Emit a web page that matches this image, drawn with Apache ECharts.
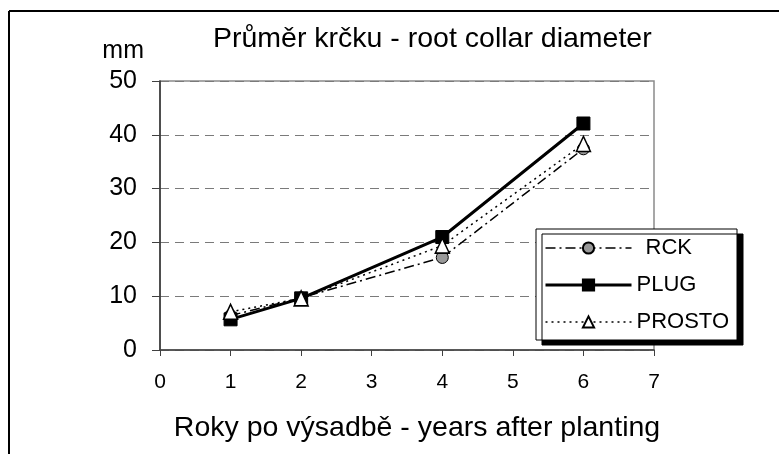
<!DOCTYPE html>
<html>
<head>
<meta charset="utf-8">
<script src="https://cdn.jsdelivr.net/npm/echarts@6/dist/echarts.min.js"></script>
<style>
  html, body { margin: 0; padding: 0; background: #fff; }
  #chart { width: 779px; height: 454px; }
</style>
</head>
<body>
<div id="chart"></div>
<script>
// years after planting
var years = [1, 2, 4, 6]
// root collar diameter (mm)
var rck = [6.4, 9.7, 17.2, 37.4]
var plug = [5.7, 9.6, 21.0, 42.1]
var prosto = [7.1, 9.6, 19.4, 38.3]
var yTicks = [0, 10, 20, 30, 40, 50]
var xTicks = [0, 1, 2, 3, 4, 5, 6, 7]

function pairs(vals) {
  return years.map(function (y, i) { return [y, vals[i]] })
}

var font = 'Liberation Sans'
var chart = echarts.init(document.getElementById('chart'))

chart.setOption({
  animation: false,
  backgroundColor: '#fff',
  textStyle: { fontFamily: font, color: '#000' },
  title: {
    text: 'Průměr krčku - root collar diameter',
    left: 213,
    top: 25,
    padding: 0,
    textStyle: { fontFamily: font, fontSize: 28.5, fontWeight: 'normal', color: '#000' }
  },
  grid: {
    left: 160, right: 125, top: 81, bottom: 104,
    show: true, borderColor: '#8a8a8a', borderWidth: 1.5, backgroundColor: '#fff'
  },
  legend: {
    orient: 'vertical',
    left: 536,
    top: 229,
    padding: [8, 8, 7, 8],
    itemWidth: 86,
    itemHeight: 14,
    itemGap: 15,
    itemTextGap: 5,
    backgroundColor: '#fff',
    borderColor: '#000',
    borderWidth: 1,
    shadowColor: '#000',
    shadowOffsetX: 6,
    shadowOffsetY: 5,
    shadowBlur: 0,
    lineStyle: { width: 'inherit' },
    textStyle: { fontFamily: font, fontSize: 22, color: '#000' },
    data: [
      { name: 'RCK', textStyle: { padding: [0, 0, 0, 9] } },
      'PLUG',
      'PROSTO'
    ]
  },
  xAxis: {
    type: 'value',
    min: xTicks[0],
    max: xTicks[xTicks.length - 1],
    interval: 1,
    name: 'Roky po výsadbě - years after planting',
    nameLocation: 'middle',
    nameGap: 64,
    nameTextStyle: { fontFamily: font, fontSize: 28.5, color: '#000', padding: [0, 0, 0, 20] },
    axisLine: { onZero: false, lineStyle: { color: '#404040', width: 1.5 } },
    axisTick: { length: 6, lineStyle: { color: '#404040', width: 1 } },
    axisLabel: { fontSize: 21, color: '#000', margin: 22 },
    splitLine: { show: false }
  },
  yAxis: {
    type: 'value',
    min: yTicks[0],
    max: yTicks[yTicks.length - 1],
    interval: 10,
    name: 'mm',
    nameLocation: 'end',
    nameGap: 17,
    nameTextStyle: { fontFamily: font, fontSize: 25, color: '#000', align: 'right', padding: [0, 16, 0, 0] },
    axisLine: { show: true, lineStyle: { color: '#303030', width: 1.5 } },
    axisTick: { show: true, length: 8, lineStyle: { color: '#404040', width: 1 } },
    axisLabel: { fontSize: 25, color: '#000', margin: 23 },
    splitLine: { show: true, lineStyle: { color: '#7a7a7a', width: 1, type: [9, 6] } }
  },
  series: [
    {
      name: 'RCK',
      type: 'line',
      data: pairs(rck),
      symbol: 'circle',
      symbolSize: 12,
      z: 2,
      lineStyle: { color: '#000', width: 1.5, type: [10, 4, 2, 4] },
      itemStyle: { color: '#999', borderColor: '#000', borderWidth: 1 }
    },
    {
      name: 'PLUG',
      type: 'line',
      data: pairs(plug),
      symbol: 'rect',
      symbolSize: 13,
      z: 3,
      lineStyle: { color: '#000', width: 3, type: 'solid' },
      itemStyle: { color: '#000', borderColor: '#000', borderWidth: 1 }
    },
    {
      name: 'PROSTO',
      type: 'line',
      data: pairs(prosto),
      symbol: 'triangle',
      symbolSize: [14, 15],
      z: 4,
      lineStyle: { color: '#000', width: 1.5, type: [2, 4] },
      itemStyle: { color: '#fff', borderColor: '#000', borderWidth: 1.5 }
    }
  ],
  graphic: [
    // outer frame, top and left edges only
    { type: 'line', shape: { x1: 9, y1: 11, x2: 779, y2: 11 }, style: { stroke: '#000', lineWidth: 2 } },
    { type: 'line', shape: { x1: 9, y1: 11, x2: 9, y2: 454 }, style: { stroke: '#000', lineWidth: 2 } }
  ]
})
</script>
</body>
</html>
